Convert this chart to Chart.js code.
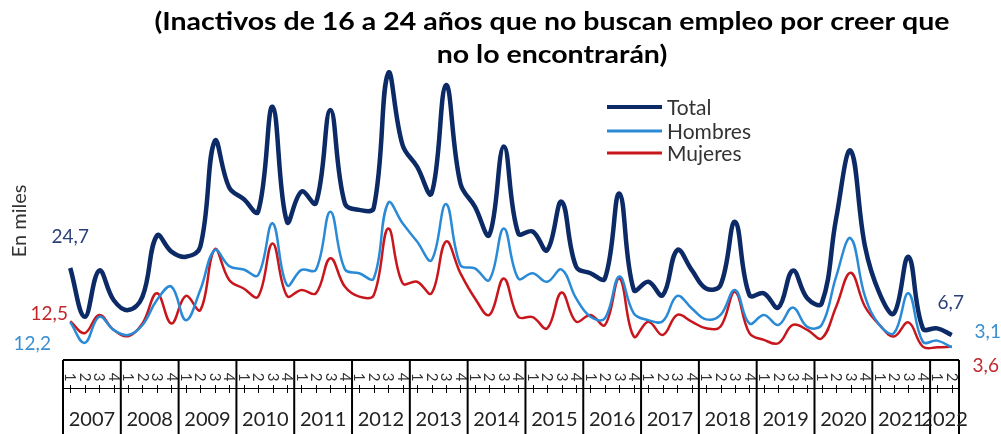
<!DOCTYPE html>
<html>
<head>
<meta charset="utf-8">
<script src="https://cdn.jsdelivr.net/npm/chart.js@4.4.1/dist/chart.umd.min.js"></script>
<style>
    html, body { margin: 0; padding: 0; background: #fff; }
</style>
</head>
<body>
<canvas id="chart" width="1001" height="434"></canvas>
<script>
// years on the axis, 2022 only has two quarters
const years = ['2007','2008','2009','2010','2011','2012','2013','2014','2015','2016','2017','2018','2019','2020','2021','2022'];
const quarterNames = ['1','2','3','4'];

// values in thousands
const total = [24.7, 11.6, 24.0, 16.1, 13.4, 17.0, 33.4, 29.1, 27.7, 30.4,
               58.8, 46.3, 43.2, 39.8, 68.0, 37.1, 45.2, 42.1, 67.1, 42.1,
               40.3, 40.8, 77.0, 57.7, 51.9, 44.7, 73.8, 47.4, 41.2, 33.6,
               57.3, 34.0, 34.5, 29.5, 42.5, 25.1, 23.3, 21.9, 44.7, 18.8,
               21.0, 17.4, 29.5, 24.2, 19.2, 20.1, 37.1, 17.4, 17.9, 14.1,
               24.0, 16.6, 15.2, 38.0, 56.2, 30.4, 17.9, 12.5, 27.7, 8.5,
               8.5, 6.7];
const hombres = [10.2, 4.6, 11.6, 8.1, 6.7, 9.4, 16.1, 19.7, 10.7, 18.8,
                 29.5, 25.2, 24.3, 22.8, 36.7, 20.1, 24.2, 24.2, 39.8, 24.4,
                 23.3, 21.9, 42.2, 36.7, 31.8, 26.8, 41.9, 25.5, 24.6, 21.5,
                 35.3, 21.9, 23.3, 21.0, 24.3, 16.6, 11.6, 11.2, 22.4, 12.5,
                 10.7, 10.4, 17.2, 13.9, 10.9, 12.1, 18.8, 9.8, 12.1, 9.4,
                 14.1, 8.9, 9.4, 22.4, 32.7, 17.0, 9.4, 7.2, 17.9, 4.9,
                 5.2, 3.4];
const mujeres = [10.4, 7.2, 12.1, 8.1, 6.4, 9.8, 17.9, 9.8, 17.2, 13.4,
                 29.7, 21.5, 19.2, 17.0, 31.3, 17.2, 18.8, 17.9, 27.3, 19.7,
                 17.0, 17.4, 35.3, 20.6, 21.0, 17.9, 31.8, 23.3, 16.6, 12.1,
                 21.9, 11.6, 11.5, 8.5, 18.1, 10.3, 12.1, 9.4, 21.9, 6.3,
                 10.3, 6.7, 12.1, 10.3, 8.5, 9.0, 18.3, 7.2, 5.4, 4.5,
                 9.4, 8.1, 5.8, 14.3, 23.4, 14.3, 9.4, 6.3, 10.1, 3.6,
                 3.4, 3.6];

const seriesNames = ['Total', 'Hombres', 'Mujeres'];
const startLabels = ['24,7', '12,2', '12,5'];
const endLabels = ['6,7', '3,1', '3,6'];
const titleLines = ['(Inactivos de 16 a 24 años que no buscan empleo por creer que', 'no lo encontrarán)'];
const yTitle = 'En miles';

const NAVY = '#0c2a66', BLUE = '#2a8ad6', RED = '#c8161d';

// one label per point: year + quarter
let labels = [];
let quarterOf = [];
years.forEach(y => {
    let n = (y === '2022') ? 2 : 4;
    for (let q = 0; q < n; q++) {
        labels.push(y + ' T' + quarterNames[q]);
        quarterOf.push(quarterNames[q]);
    }
});

const FONT = 'Lato, "DejaVu Sans", sans-serif';

const decorPlugin = {
    id: 'decor',
    afterDraw(chart) {
        const ctx = chart.ctx;
        const xs = chart.scales.x;
        const area = chart.chartArea;
        const step = xs.getPixelForValue(1) - xs.getPixelForValue(0);
        const top = area.bottom;
        const bottom = chart.height + 2;

        ctx.save();

        // title, stretched a bit to the width of the original wide face
        ctx.fillStyle = '#000';
        ctx.font = 'bold 25px ' + FONT;
        ctx.textAlign = 'center';
        ctx.textBaseline = 'middle';
        const sx = 795 / ctx.measureText(titleLines[0]).width;
        [22, 55].forEach((y, i) => {
            ctx.save();
            ctx.translate(552, y);
            ctx.scale(sx, 1);
            ctx.fillText(titleLines[i], 0, 0);
            ctx.restore();
        });

        // y title
        ctx.save();
        ctx.translate(20, 221);
        ctx.rotate(-Math.PI / 2);
        ctx.font = '20px ' + FONT;
        ctx.fillStyle = '#333';
        ctx.fillText(yTitle, 0, 0);
        ctx.restore();

        // legend
        const legColors = [NAVY, BLUE, RED];
        const legWidths = [4, 3, 3];
        const legY = [107, 131, 153];
        ctx.textAlign = 'left';
        ctx.font = '21px ' + FONT;
        seriesNames.forEach((name, i) => {
            ctx.strokeStyle = legColors[i];
            ctx.lineWidth = legWidths[i];
            ctx.beginPath();
            ctx.moveTo(607, legY[i]);
            ctx.lineTo(662, legY[i]);
            ctx.stroke();
            ctx.fillStyle = '#333';
            ctx.fillText(name, 667, legY[i] + 1);
        });

        // start / end value labels, placed next to the first and last points
        ctx.font = '19px ' + FONT;
        ctx.textAlign = 'center';
        const labColors = ['#2b3f78', '#3a8fd0', '#c0282d'];
        const startOff = [[0, -31], [-38, 22], [-21, -7]];
        const endOff = [[-1, -32], [36, -15], [34, 19]];
        chart.data.datasets.forEach((ds, i) => {
            const pts = chart.getDatasetMeta(i).data;
            const p0 = pts[0], p1 = pts[pts.length - 1];
            ctx.fillStyle = labColors[i];
            ctx.fillText(startLabels[i], p0.x + startOff[i][0], p0.y + startOff[i][1]);
            ctx.fillText(endLabels[i], p1.x + endOff[i][0], p1.y + endOff[i][1]);
        });

        // axis box
        ctx.strokeStyle = '#000';
        ctx.lineWidth = 2;
        ctx.beginPath();
        ctx.moveTo(area.left, top);
        ctx.lineTo(area.right, top);
        ctx.stroke();

        ctx.lineWidth = 1;
        ctx.beginPath();
        ctx.moveTo(area.left, 388.5);
        ctx.lineTo(area.right, 388.5);
        ctx.stroke();

        // quarter labels + small ticks
        ctx.fillStyle = '#333';
        ctx.font = '15px ' + FONT;
        ctx.textAlign = 'center';
        ctx.textBaseline = 'middle';
        quarterOf.forEach((q, i) => {
            const x = xs.getPixelForValue(i);
            ctx.save();
            ctx.translate(x, 377);
            ctx.rotate(Math.PI / 2);
            ctx.fillText(q, 0, 0);
            ctx.restore();
            ctx.beginPath();
            ctx.moveTo(Math.round(x) + 0.5, 385);
            ctx.lineTo(Math.round(x) + 0.5, 393);
            ctx.stroke();
        });

        // year cells
        ctx.font = '20px ' + FONT;
        ctx.fillStyle = '#222';
        ctx.lineWidth = 2;
        let idx = 0;
        years.forEach((y, k) => {
            const n = (y === '2022') ? 2 : 4;
            const x0 = xs.getPixelForValue(idx) - step / 2;
            const x1 = xs.getPixelForValue(idx + n - 1) + step / 2;
            ctx.beginPath();
            ctx.moveTo(x0, top);
            ctx.lineTo(x0, bottom);
            ctx.stroke();
            if (k === years.length - 1) {
                ctx.beginPath();
                ctx.moveTo(x1, top);
                ctx.lineTo(x1, bottom);
                ctx.stroke();
            }
            ctx.fillText(y, (x0 + x1) / 2, 420);
            idx += n;
        });

        ctx.restore();
    }
};

const chart = new Chart(document.getElementById('chart'), {
    type: 'line',
    data: {
        labels: labels,
        datasets: [
            {
                label: seriesNames[0],
                data: total,
                borderColor: NAVY,
                borderWidth: 4.5,
                pointRadius: 0,
                tension: 0.4,
                fill: false,
            },
            {
                label: seriesNames[1],
                data: hombres,
                borderColor: BLUE,
                borderWidth: 2.5,
                pointRadius: 0,
                tension: 0.4,
                fill: false,
            },
            {
                label: seriesNames[2],
                data: mujeres,
                borderColor: RED,
                borderWidth: 2.5,
                pointRadius: 0,
                tension: 0.4,
                fill: false,
            },
        ],
    },
    options: {
        responsive: false,
        animation: false,
        devicePixelRatio: 1,
        layout: {
            padding: { left: 63, right: 42, top: 62, bottom: 74 },
        },
        plugins: {
            legend: { display: false },
            title: { display: false },
            tooltip: { enabled: false },
        },
        scales: {
            x: {
                display: false,
                offset: true,
            },
            y: {
                display: false,
                min: 0,
                max: 80,
            },
        },
    },
    plugins: [decorPlugin],
});
</script>
</body>
</html>
